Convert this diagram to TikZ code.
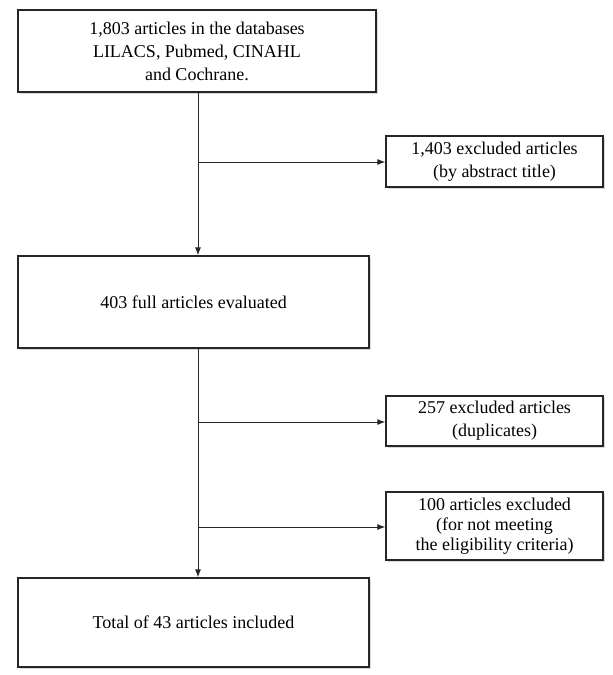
\documentclass[tikz,border=0pt]{standalone}
\usepackage{fontspec}
\setmainfont{Liberation Serif}
\usetikzlibrary{arrows.meta,shadows}
\begin{document}
\begin{tikzpicture}[x=1pt,y=-1pt,
    font=\fontsize{18}{23}\selectfont,
    mainbox/.style={rectangle, draw=black!85, line width=1.2pt, fill=white,
        drop shadow={shadow xshift=1.5pt, shadow yshift=-1.5pt, opacity=0.3},
        minimum width=351pt, align=center},
    exbox/.style={rectangle, draw=black!85, line width=1.2pt, fill=white,
        drop shadow={shadow xshift=1.5pt, shadow yshift=-1.5pt, opacity=0.3},
        minimum width=217pt, align=center, inner sep=1pt},
    arrow/.style={-{Latex[length=8pt,width=6pt]}, line width=1pt, black!85}
]
\useasboundingbox (0,0) rectangle (613,675);

% main column
\node[mainbox, minimum width=358pt, minimum height=82pt] (db) at (197,51) {1,803 articles in the databases\\LILACS, Pubmed, CINAHL\\and Cochrane.};
\node[mainbox, minimum height=92pt] (full) at (193.5,302) {403 full articles evaluated};
\node[mainbox, minimum height=89pt] (total) at (193.5,622.5) {Total of 43 articles included};

% exclusions
\node[exbox, minimum height=51pt] (ex1) at (494.5,161.5) {1,403 excluded articles\\(by abstract title)};
\node[exbox, minimum height=50pt] (ex2) at (494.5,421) {257 excluded articles\\(duplicates)};
\node[exbox, minimum height=68pt, font=\fontsize{18}{20}\selectfont] (ex3) at (494.5,526) {100 articles excluded\\(for not meeting\\the eligibility criteria)};

\coordinate (b1) at (198,162);
\coordinate (b2) at (198,422);
\coordinate (b3) at (198,527);
\draw[arrow] (b1 |- db.south) -- (b1 |- full.north);
\draw[arrow] (b1 |- full.south) -- (b1 |- total.north);
\draw[arrow] (b1) -- (ex1.west |- b1);
\draw[arrow] (b2) -- (ex2.west |- b2);
\draw[arrow] (b3) -- (ex3.west |- b3);
\end{tikzpicture}
\end{document}
